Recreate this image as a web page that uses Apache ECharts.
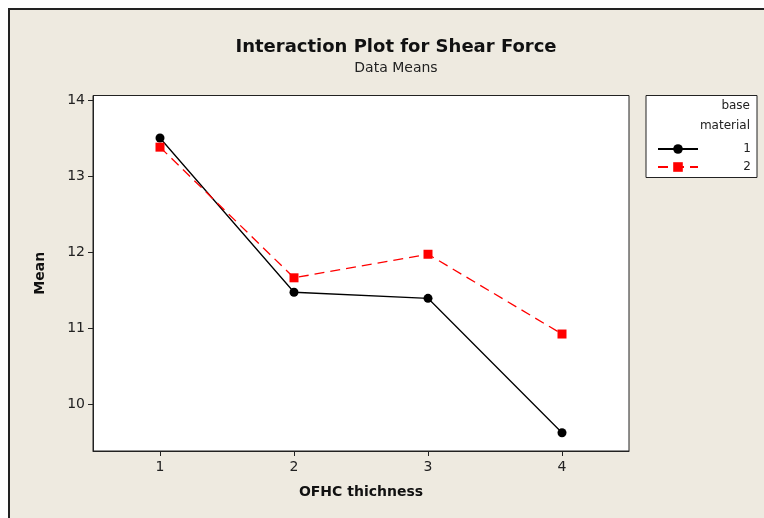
<!DOCTYPE html>
<html>
<head>
<meta charset="utf-8">
<script src="https://cdn.jsdelivr.net/npm/echarts@6/dist/echarts.min.js"></script>
<style>
  html, body { margin: 0; padding: 0; background: #fff; }
  #chart { width: 764px; height: 518px; }
</style>
</head>
<body>
<div id="chart"></div>
<script>
// OFHC thickness levels on the x axis
const thickness = ['1', '2', '3', '4']
// means for base material 1 and 2
const material1 = [13.50, 11.47, 11.39, 9.62]
const material2 = [13.38, 11.66, 11.97, 10.92]
const yTicks = [10, 11, 12, 13, 14]

const chart = echarts.init(document.getElementById('chart'))
const font = 'Tahoma, "DejaVu Sans", sans-serif'

const option = {
  animation: false,
  textStyle: { fontFamily: font },
  graphic: [
    {
      type: 'rect', z: -10,
      shape: { x: 9, y: 9, width: 800, height: 600 },
      style: { fill: '#EEEAE0', stroke: '#222', lineWidth: 2 }
    },
    {
      type: 'rect',
      shape: { x: 646, y: 95.5, width: 111, height: 82 },
      style: { fill: '#fff', stroke: '#222', lineWidth: 1 }
    },
    {
      type: 'text', x: 750, y: 100,
      style: { text: 'base', fill: '#222', font: '12px ' + font, align: 'right' }
    },
    {
      type: 'text', x: 750, y: 120,
      style: { text: 'material', fill: '#222', font: '12px ' + font, align: 'right' }
    }
  ],
  title: {
    text: 'Interaction Plot for Shear Force',
    subtext: 'Data Means',
    left: 391, top: 33, textAlign: 'center', itemGap: 5,
    textStyle: { fontSize: 18, fontWeight: 'bold', color: '#111', fontFamily: font },
    subtextStyle: { fontSize: 14, color: '#222', fontFamily: font }
  },
  legend: {
    orient: 'vertical',
    left: 652, top: 138,
    itemWidth: 40, itemHeight: 12, itemGap: 6,
    data: ['1', '2'],
    formatter: name => '{r|' + name + '}',
    textStyle: {
      fontSize: 12, color: '#222',
      rich: { r: { width: 48, align: 'right', fontSize: 12, color: '#222' } }
    }
  },
  grid: {
    left: 93, top: 95.5, right: 135, bottom: 67,
    show: true, backgroundColor: '#fff', borderColor: '#222', borderWidth: 1
  },
  xAxis: {
    type: 'category',
    data: thickness,
    boundaryGap: true,
    name: 'OFHC thichness',
    nameLocation: 'middle', nameGap: 34,
    nameTextStyle: { fontSize: 14, fontWeight: 'bold', color: '#111' },
    axisLine: { show: true, lineStyle: { color: '#222' } },
    axisTick: { show: true, alignWithLabel: true, length: 5, lineStyle: { color: '#222' } },
    axisLabel: { fontSize: 14, color: '#222', margin: 9 },
    splitLine: { show: false }
  },
  yAxis: {
    type: 'value',
    min: 9.38, max: 14.06,
    name: 'Mean',
    nameLocation: 'middle', nameGap: 46, nameRotate: 90,
    nameTextStyle: { fontSize: 14, fontWeight: 'bold', color: '#111' },
    axisLine: { show: true, lineStyle: { color: '#222' } },
    axisTick: { show: true, length: 5, customValues: yTicks, lineStyle: { color: '#222' } },
    axisLabel: { fontSize: 14, color: '#222', margin: 8, customValues: yTicks },
    splitLine: { show: false }
  },
  series: [
    {
      name: '1', type: 'line', data: material1,
      symbol: 'circle', symbolSize: 9,
      itemStyle: { color: '#000' },
      lineStyle: { color: '#000', width: 1.3 }
    },
    {
      name: '2', type: 'line', data: material2,
      symbol: 'rect', symbolSize: 9,
      itemStyle: { color: '#f00' },
      lineStyle: { color: '#f00', width: 1.3, type: [10, 6] }
    }
  ]
}
chart.setOption(option)
</script>
</body>
</html>
